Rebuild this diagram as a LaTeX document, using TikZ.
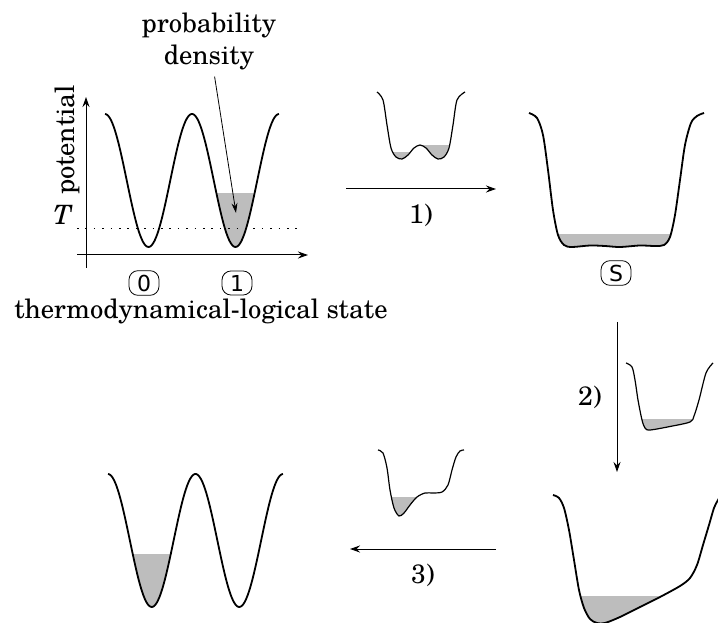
\documentclass[tikz,border=0pt]{standalone}
\usepackage{fontspec}
\setmainfont{TeX Gyre Schola}
\newfontfamily\statefont{DejaVu Sans}
\usepackage{tikz}
\usetikzlibrary{arrows.meta, positioning}
\definecolor{mFill}{gray}{0.74}
\newcommand\potA{plot[smooth] coordinates {(377,530) (383,522) (387,497) (391,474) (396,465) (402,463) (408,467) (414,474) (420,477) (426,474) (432,467) (438,463) (444,465) (449,474) (453,497) (457,522) (465,530)}}
\newcommand\potS{plot[smooth] coordinates {(529,509) (537,504) (543,487) (548,452) (553,412) (558,387) (564,377) (572,375) (590,376.5) (605,376) (620,375) (640,376.5) (655,376) (664,377) (670,385) (675,407) (680,442) (685,477) (691,499) (697,506) (704,509)}}
\newcommand\potB{plot[smooth] coordinates {(626,259) (632,255) (635,242) (638,222) (642,202) (645,194) (650,192) (670,195.5) (690,200) (694,206) (699,222) (706,249) (713,259)}}
\newcommand\potC{plot[smooth] coordinates {(553,127) (559,124) (564,114) (569,92) (574,62) (579,32) (584,14) (590,3) (597,-1) (605,-1) (620,5) (640,15) (660,25) (680,36) (690,44) (697,57) (703,77) (709,97) (714,114) (718,122) (724,132)}}
\newcommand\potD{plot[smooth] coordinates {(378,172) (383,169) (387,154) (390,132) (394,114) (399,106) (404,109) (410,117) (417,125) (425,129) (433,129) (442,130) (448,137) (452,152) (456,165) (460,171) (464,172)}}

\begin{document}
\begin{tikzpicture}[x=0.5pt, y=0.5pt,
    every node/.style={font=\fontsize{13.3}{16}\selectfont},
    well/.style={line width=0.9pt},
    smallwell/.style={line width=0.6pt},
    prob/.style={fill=mFill},
    state/.style={draw, rounded corners=4.5pt, font=\statefont\fontsize{11}{13}\selectfont, inner xsep=4pt, inner ysep=2pt, line width=0.4pt},
    stage/.style={-{Stealth[length=5pt, width=3.5pt]}, line width=0.5pt},
    axis/.style={-{Stealth[length=5pt, width=3.5pt]}, line width=0.5pt}]
  \clip (0,0) rectangle (718,622);
  % initial state 1
  \begin{scope}
    \clip plot[domain=105:279, samples=120, smooth] (\x, {441.5+66.5*cos(360*((\x-105)/87))}) -- cycle;
    \fill[prob] (200,360) rectangle (270,429);
  \end{scope}
  \draw[well] plot[domain=105:279, samples=120, smooth] (\x, {441.5+66.5*cos(360*((\x-105)/87))});
  \draw[axis] (86,354) -- (86,525);
  \draw[axis] (77,367) -- (308,367);
  \draw[dash pattern=on 0.8pt off 3.4pt] (77,394) -- (300,394);
  \node (temp) at (63,407) {\textit{T}};
  \node[rotate=90] (pot) at (67,482) {potential};
  \node[align=center] (pd) at (209,581) {probability\\density};
  \coordinate (pdtip) at (236,409);
  \draw[-{Stealth[length=5pt, width=3pt]}, line width=0.4pt] (pd) -- (pdtip);
  \foreach \s/\px in {0/144, 1/237}
    \node[state] (st\s) at (\px,339) {\s};
  \node (xlab) at (201,311) {thermodynamical-logical state};
  % step 1
  \begin{scope}
    \clip \potA -- cycle;
    \fill[prob] (385,455) rectangle (413,470);
    \fill[prob] (420,455) rectangle (460,477);
  \end{scope}
  \draw[smallwell] \potA;
  \coordinate (a1) at (346,433);
  \coordinate (b1) at (496,433);
  \draw[stage] (a1) -- node[below=4pt] (l1) {1)} (b1);
  % merged state S
  \begin{scope}
    \clip \potS -- cycle;
    \fill[prob] (550,360) rectangle (690,388);
  \end{scope}
  \draw[well] \potS;
  \node[state] (stS) at (616,349) {S};
  % step 2
  \begin{scope}
    \clip \potB -- cycle;
    \fill[prob] (635,185) rectangle (700,203);
  \end{scope}
  \draw[smallwell] \potB;
  \coordinate (a2) at (617,300);
  \coordinate (b2) at (617,150);
  \draw[stage] (a2) -- node[left=4pt] (l2) {2)} (b2);
  \begin{scope}
    \clip \potC -- cycle;
    \fill[prob] (570,-10) rectangle (670,26);
  \end{scope}
  \draw[well] \potC;
  % step 3
  \begin{scope}
    \clip \potD -- cycle;
    \fill[prob] (385,100) rectangle (418,125.3);
  \end{scope}
  \draw[smallwell] \potD;
  \coordinate (a3) at (496,73);
  \coordinate (b3) at (350,73);
  \draw[stage] (a3) -- node[below=4pt] (l3) {3)} (b3);
  % final state 0
  \begin{scope}
    \clip plot[domain=108:283, samples=120, smooth] (\x, {81.5+66.5*cos(360*((\x-108)/87.5))}) -- cycle;
    \fill[prob] (120,5) rectangle (185,68);
  \end{scope}
  \draw[well] plot[domain=108:283, samples=120, smooth] (\x, {81.5+66.5*cos(360*((\x-108)/87.5))});
\end{tikzpicture}
\end{document}
